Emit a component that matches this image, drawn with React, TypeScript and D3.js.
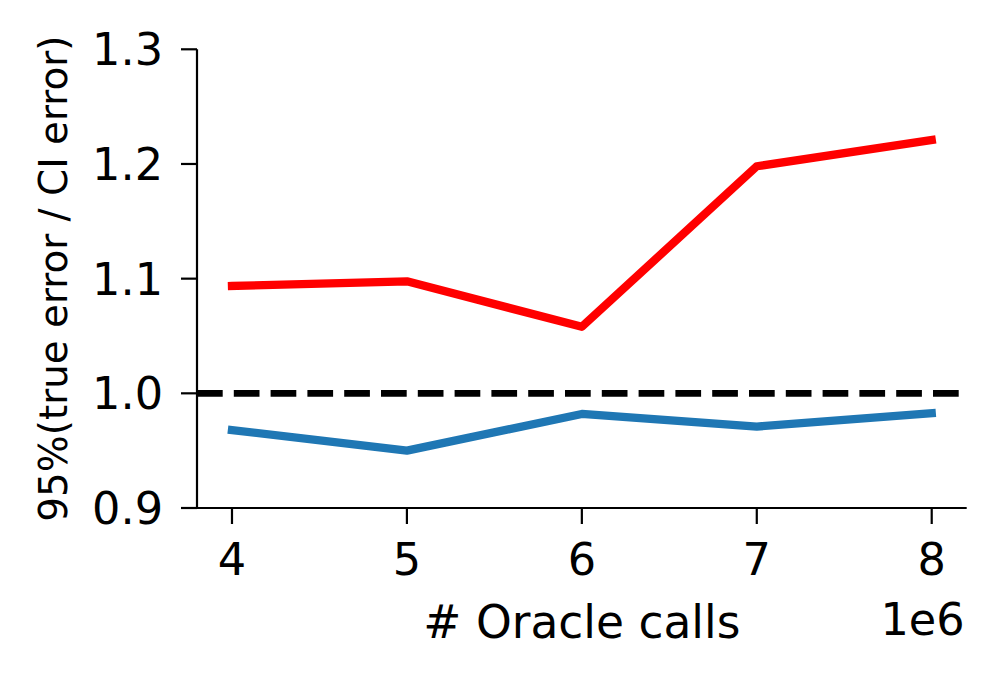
import React from "react";
import * as d3 from "d3";

const xValues = [4e6, 5e6, 6e6, 7e6, 8e6];
const redValues = [1.0936, 1.0977, 1.058, 1.198, 1.221];
const blueValues = [0.968, 0.95, 0.982, 0.971, 0.9826];
const xTicks = [4e6, 5e6, 6e6, 7e6, 8e6];
const yTicks = [0.9, 1.0, 1.1, 1.2, 1.3];
const refValue = 1.0;

const W = 998;
const H = 681;
const FONT = "'DejaVu Sans', sans-serif";

export default function App() {
  const x = d3.scaleLinear().domain([3.8e6, 8.2e6]).range([197, 966.7]);
  const y = d3.scaleLinear().domain([0.9, 1.3]).range([508, 49.3]);
  const line = d3
    .line<number>()
    .x((_, i) => x(xValues[i]))
    .y((d) => y(d));

  const [x0, x1] = x.range();
  const [y0, y1] = y.range();

  return (
    <svg
      width={W}
      height={H}
      style={{ position: "absolute", left: 0, top: 0, background: "#fff" }}
      fontFamily={FONT}
    >
      <rect x={0} y={0} width={W} height={H} fill="#fff" />
      <line
        x1={x0}
        x2={x1}
        y1={y(refValue)}
        y2={y(refValue)}
        stroke="#000"
        strokeWidth={6.9}
        strokeDasharray="25.7 11.1"
      />
      <path
        d={line(redValues) || ""}
        fill="none"
        stroke="#ff0000"
        strokeWidth={8.3}
        strokeLinecap="square"
        strokeLinejoin="round"
      />
      <path
        d={line(blueValues) || ""}
        fill="none"
        stroke="#1f77b4"
        strokeWidth={8.3}
        strokeLinecap="square"
        strokeLinejoin="round"
      />
      <line x1={x0} x2={x0} y1={y0 + 1.1} y2={y1} stroke="#000" strokeWidth={2.2} />
      <line x1={x0 - 1.1} x2={x1} y1={y0} y2={y0} stroke="#000" strokeWidth={2.2} />
      {yTicks.map((t) => (
        <g key={"y" + t}>
          <line x1={x0 - 16} x2={x0} y1={y(t)} y2={y(t)} stroke="#000" strokeWidth={2.2} />
          <text x={163} y={y(t) + 16} textAnchor="end" fontSize={44.6} fill="#000">
            {d3.format(".1f")(t)}
          </text>
        </g>
      ))}
      {xTicks.map((t) => (
        <g key={"x" + t}>
          <line x1={x(t)} x2={x(t)} y1={y0} y2={y0 + 16} stroke="#000" strokeWidth={2.2} />
          <text x={x(t)} y={y0 + 67} textAnchor="middle" fontSize={44.6} fill="#000">
            {d3.format("d")(t / 1e6)}
          </text>
        </g>
      ))}
      <text x={x1 - 2} y={635} textAnchor="end" fontSize={44.6} fill="#000">
        1e6
      </text>
      <text x={(x0 + x1) / 2} y={638} textAnchor="middle" fontSize={45.5} fill="#000">
        # Oracle calls
      </text>
      <text
        transform={`translate(67, ${(y0 + y1) / 2}) rotate(-90)`}
        textAnchor="middle"
        fontSize={38.9}
        fill="#000"
      >
        95%(true error / CI error)
      </text>
    </svg>
  );
}
